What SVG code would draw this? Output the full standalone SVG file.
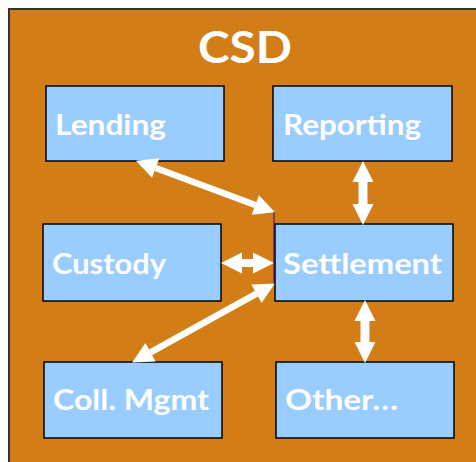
<svg xmlns="http://www.w3.org/2000/svg" width="476" height="462" viewBox="0 0 476 462">
<style>
.box{fill:#99CCFF;stroke:#000;stroke-width:1.5}
.lbl{font-family:Lato,"Open Sans","Liberation Sans",sans-serif;font-weight:bold;font-size:29px;fill:#fff}
.arr{stroke:#fff;fill:none;marker-start:url(#ah);marker-end:url(#ah)}
</style>
<defs>
<marker id="ah" markerUnits="userSpaceOnUse" markerWidth="22" markerHeight="22" viewBox="0 -11 21 22" refX="0" refY="0" orient="auto-start-reverse" overflow="visible">
<path d="M0,-10.5 L21,0 L0,10.5 Z" fill="#fff"/>
</marker>
</defs>
<rect width="476" height="462" fill="#fff"/>
<rect x="9" y="9" width="480" height="470" fill="#D37D17" stroke="#333" stroke-width="2"/>
<text x="198" y="63" textLength="94" lengthAdjust="spacingAndGlyphs" font-family="Lato,'Open Sans','Liberation Sans',sans-serif" font-weight="bold" font-size="44" fill="#fff">CSD</text>
<g id="lending"><rect class="box" x="46" y="86" width="178" height="75"/><text class="lbl" x="55" y="135" textLength="111" lengthAdjust="spacingAndGlyphs">Lending</text></g>
<g id="reporting"><rect class="box" x="273" y="86" width="179" height="75"/><text class="lbl" x="283" y="135" textLength="138" lengthAdjust="spacingAndGlyphs">Reporting</text></g>
<g id="custody"><rect class="box" x="43" y="224" width="178" height="77"/><text class="lbl" x="52" y="274" textLength="114" lengthAdjust="spacingAndGlyphs">Custody</text></g>
<g id="settlement"><rect class="box" x="275" y="224" width="178" height="77"/><text class="lbl" x="283" y="274" textLength="159" lengthAdjust="spacingAndGlyphs">Settlement</text></g>
<g id="coll"><rect class="box" x="44" y="362" width="178" height="76"/><text class="lbl" x="53" y="410" textLength="156" lengthAdjust="spacingAndGlyphs">Coll. Mgmt</text></g>
<g id="other"><rect class="box" x="276" y="362" width="178" height="76"/><text class="lbl" x="285" y="410" textLength="113" lengthAdjust="spacingAndGlyphs">Other…</text></g>
<g id="connectors">
<line class="arr" stroke-width="6.5" x1="155.7" y1="168" x2="255.3" y2="205"/>
<line class="arr" stroke-width="6.5" x1="256.5" y1="293.7" x2="150.5" y2="352.3"/>
<line class="arr" stroke-width="9" x1="363" y1="182" x2="363" y2="204"/>
<line class="arr" stroke-width="8" x1="242" y1="263" x2="253" y2="263"/>
<line class="arr" stroke-width="9" x1="365" y1="321" x2="365" y2="342"/>
<line x1="274" y1="212" x2="274" y2="284" stroke="#330099" stroke-width="1"/>
</g>
</svg>
